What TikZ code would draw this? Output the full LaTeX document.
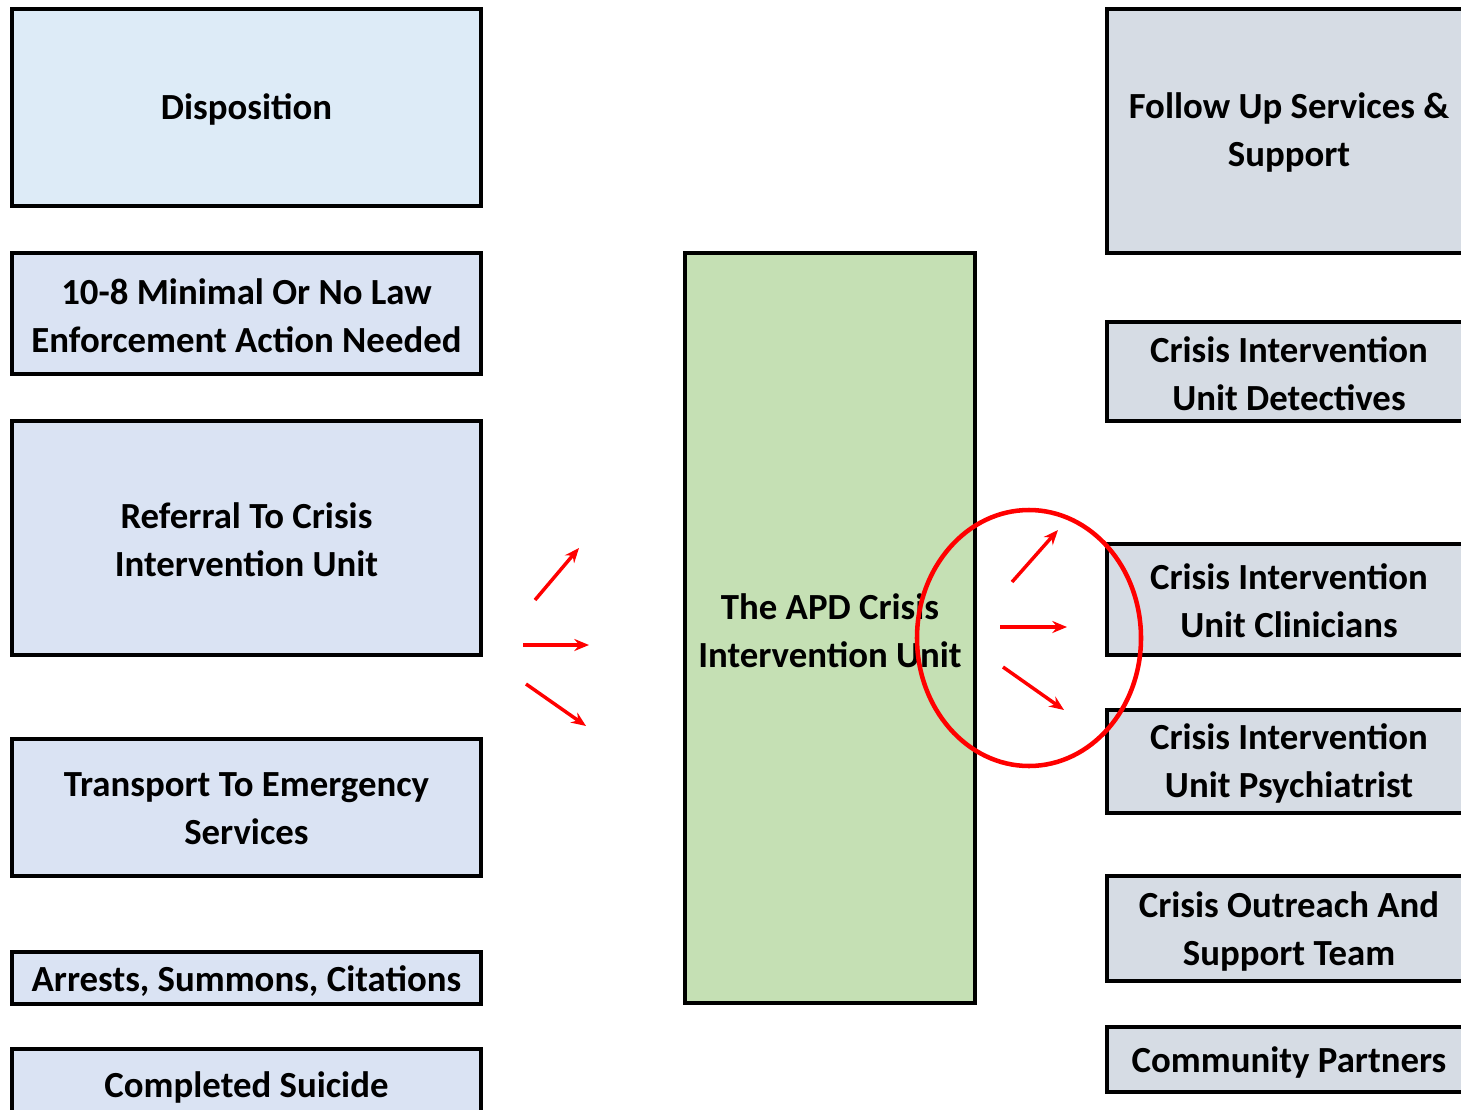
\documentclass[tikz,border=0pt]{standalone}
\usepackage{fontspec}
\setmainfont{Carlito}
\usetikzlibrary{arrows.meta,shapes.geometric}
\definecolor{dispblue}{RGB}{221,235,247}
\definecolor{lav}{RGB}{218,227,243}
\definecolor{grn}{RGB}{197,224,180}
\definecolor{gry}{RGB}{214,220,228}
\begin{document}
\begin{tikzpicture}[x=0.75pt,y=-0.75pt,
  box/.style={draw=black,line width=2.6pt,inner sep=0pt},
  lbox/.style={box,minimum width=351.75pt},
  rbox/.style={box,fill=gry,minimum width=273pt},
  txt/.style={inner sep=0pt,align=center,font=\bfseries\fontsize{27.6}{36}\selectfont},
  redarr/.style={draw=red,line width=2.6pt,-{Stealth[length=11pt,width=9pt]}}]
\useasboundingbox (0,0) rectangle (1461,1110);
\fill[white] (0,0) rectangle (1461,1110);
% left column
\node[lbox,fill=dispblue,minimum height=147.75pt] (disp) at (246.5,107.5) {};
\node[lbox,fill=lav,minimum height=90.75pt] (ten) at (246.5,313.5) {};
\node[lbox,fill=lav,minimum height=175.5pt] (ref) at (246.5,538) {};
\node[lbox,fill=lav,minimum height=102.75pt] (trans) at (246.5,807.5) {};
\node[lbox,fill=lav,minimum height=39pt] (arr) at (246.5,978) {};
\node[lbox,fill=lav,minimum height=57pt] (sui) at (246.5,1087) {};
\node[txt] (dispt) at ([yshift=-1.2pt]disp.center) {Disposition};
\node[txt] (tent) at ([yshift=-1.8pt]ten.center) {10-8 Minimal Or No Law\\Enforcement Action Needed};
\node[txt] (reft) at ([yshift=-1.2pt]ref.center) {Referral To Crisis\\Intervention Unit};
\node[txt] (transt) at ([yshift=-1.2pt]trans.center) {Transport To Emergency\\Services};
\node[txt] (arrt) at ([yshift=-2pt]arr.center) {Arrests, Summons, Citations};
\node[txt] (suit) at ([yshift=-0.5pt]sui.center) {Completed Suicide};
% center
\node[box,fill=grn,minimum width=217.5pt,minimum height=562.5pt] (apd) at (830,628) {};
\node[txt] (apdt) at ([yshift=-2.2pt]apd.center) {The APD Crisis\\Intervention Unit};
% right column
\node[rbox,minimum height=183pt] (fol) at (1289,131) {};
\node[rbox,minimum height=74.25pt] (det) at (1289,371.5) {};
\node[rbox,minimum height=83.25pt] (cli) at (1289,599.5) {};
\node[rbox,minimum height=77.25pt] (psy) at (1289,761.5) {};
\node[rbox,minimum height=78.75pt] (out) at (1289,928.5) {};
\node[rbox,minimum height=48.75pt] (com) at (1289,1059.5) {};
\node[txt] (folt) at ([yshift=-1.2pt]fol.center) {Follow Up Services \&\\Support};
\node[txt] (dett) at ([yshift=-1.5pt]det.center) {Crisis Intervention\\Unit Detectives};
\node[txt] (clit) at ([yshift=-1pt]cli.center) {Crisis Intervention\\Unit Clinicians};
\node[txt] (psyt) at ([yshift=-1.5pt]psy.center) {Crisis Intervention\\Unit Psychiatrist};
\node[txt] (outt) at ([yshift=-2pt]out.center) {Crisis Outreach And\\Support Team};
\node[txt] (comt) at ([yshift=-2pt]com.center) {Community Partners};
% left arrows
\coordinate (la1s) at (535,600); \coordinate (la1e) at (579,548);
\coordinate (la2s) at (523,645); \coordinate (la2e) at (589,645);
\coordinate (la3s) at (526,684); \coordinate (la3e) at (586,726);
\draw[redarr] (la1s) -- (la1e);
\draw[redarr] (la2s) -- (la2e);
\draw[redarr] (la3s) -- (la3e);
% right arrows
\coordinate (ra1s) at (1012,582); \coordinate (ra1e) at (1058,530);
\coordinate (ra2s) at (1000,627); \coordinate (ra2e) at (1067,627);
\coordinate (ra3s) at (1003,667); \coordinate (ra3e) at (1064,710);
\draw[redarr] (ra1s) -- (ra1e);
\draw[redarr] (ra2s) -- (ra2e);
\draw[redarr] (ra3s) -- (ra3e);
% red ellipse
\node[ellipse,draw=red,line width=3.4pt,inner sep=0pt,minimum width=168pt,minimum height=192pt] (circ) at (1029,638) {};
\end{tikzpicture}
\end{document}
